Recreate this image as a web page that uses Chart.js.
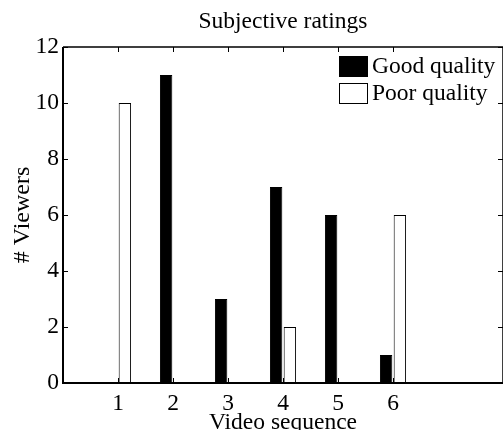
<!DOCTYPE html>
<html>
<head>
<meta charset="utf-8">
<script src="https://cdn.jsdelivr.net/npm/chart.js@4/dist/chart.umd.min.js"></script>
<style>
  body { margin: 0; background: #fff; }
  canvas { display: block; }
</style>
</head>
<body>
<canvas id="ratingsChart" width="503" height="430"></canvas>
<script>
// data
const secuencias = [1, 2, 3, 4, 5, 6];
const buenaCalidad = [0, 11, 3, 7, 6, 1];
const malaCalidad = [10, 0, 0, 2, 0, 6];
const etiquetasSerie = ['Good quality', 'Poor quality'];
const ticksX = [1, 2, 3, 4, 5, 6];
const ticksY = [0, 2, 4, 6, 8, 10, 12];

const FUENTE = "'Liberation Serif', 'DejaVu Serif', serif";
const TAM = 23.5;

// axes box + inward ticks, matlab style
const marcoPlugin = {
    id: 'marco',
    afterDatasetsDraw(chart) {
        const ctx = chart.ctx;
        const a = chart.chartArea;
        const sx = chart.scales.x, sy = chart.scales.y;
        const largo = 5;
        ctx.save();
        ctx.strokeStyle = '#000';
        ctx.lineWidth = 1;
        ticksX.forEach(v => {
            const px = Math.round(sx.getPixelForValue(v)) + 0.5;
            ctx.beginPath();
            ctx.moveTo(px, a.bottom); ctx.lineTo(px, a.bottom - largo);
            ctx.moveTo(px, a.top); ctx.lineTo(px, a.top + largo);
            ctx.stroke();
        });
        ticksY.forEach(v => {
            const py = Math.round(sy.getPixelForValue(v)) + 0.5;
            ctx.beginPath();
            ctx.moveTo(a.left, py); ctx.lineTo(a.left + largo, py);
            ctx.moveTo(a.right, py); ctx.lineTo(a.right - largo, py);
            ctx.stroke();
        });
        ctx.lineWidth = 2;
        ctx.beginPath();
        ctx.moveTo(a.left, a.top);
        ctx.lineTo(a.left, a.bottom);
        ctx.lineTo(a.right, a.bottom);
        ctx.stroke();
        ctx.lineWidth = 1.5;
        ctx.beginPath();
        ctx.moveTo(a.left, a.top);
        ctx.lineTo(a.right, a.top);
        ctx.lineTo(a.right, a.bottom);
        ctx.stroke();
        ctx.restore();
    }
};

// legend in the upper right corner, no frame
const leyendaPlugin = {
    id: 'leyendaMatlab',
    afterDraw(chart) {
        const ctx = chart.ctx;
        const a = chart.chartArea;
        const x0 = a.right - 164;
        ctx.save();
        ctx.font = TAM + 'px ' + FUENTE;
        ctx.textBaseline = 'middle';
        ctx.textAlign = 'left';
        chart.data.datasets.forEach((ds, i) => {
            const y0 = a.top + 9 + i * 27;
            ctx.fillStyle = ds.backgroundColor;
            ctx.fillRect(x0, y0, 29, 21);
            ctx.strokeStyle = '#000';
            ctx.lineWidth = 1;
            ctx.strokeRect(x0 + 0.5, y0 + 0.5, 28, 20);
            ctx.fillStyle = '#000';
            ctx.fillText(ds.label, x0 + 33, y0 + 11);
        });
        ctx.restore();
    }
};

function dibujarGrafico() {
    const ctx = document.getElementById('ratingsChart').getContext('2d');

    const datasets = [buenaCalidad, malaCalidad].map((serie, i) => ({
        label: etiquetasSerie[i],
        data: secuencias.map((s, j) => ({ x: s, y: serie[j] })),
        backgroundColor: i === 0 ? '#000' : '#fff',
        borderColor: '#000',
        borderWidth: 1,
        borderSkipped: false,
        categoryPercentage: 0.5,
        barPercentage: 0.9
    }));

    new Chart(ctx, {
        type: 'bar',
        data: { datasets: datasets },
        options: {
            responsive: false,
            animation: false,
            devicePixelRatio: 1,
            layout: { padding: 0 },
            plugins: {
                legend: { display: false },
                tooltip: { enabled: false },
                title: {
                    display: true,
                    text: 'Subjective ratings',
                    fullSize: false,
                    color: '#000',
                    font: { family: FUENTE, size: TAM, weight: 'normal', lineHeight: 1.2 },
                    padding: { top: 8, bottom: 10.8 }
                }
            },
            scales: {
                x: {
                    type: 'linear',
                    offset: false,
                    min: 0,
                    max: 8,
                    afterBuildTicks: s => { s.ticks = ticksX.map(v => ({ value: v })); },
                    afterFit: s => { s.height = 47; },
                    grid: { display: false, drawTicks: false, offset: false },
                    border: { display: false },
                    ticks: {
                        color: '#000',
                        padding: 7,
                        font: { family: FUENTE, size: TAM }
                    },
                    title: {
                        display: true,
                        text: 'Video sequence',
                        color: '#000',
                        font: { family: FUENTE, size: TAM, lineHeight: 1 },
                        padding: { top: 0, bottom: -5 }
                    }
                },
                y: {
                    min: 0,
                    max: 12,
                    afterBuildTicks: s => { s.ticks = ticksY.map(v => ({ value: v })); },
                    afterFit: s => { s.width = 63; },
                    grid: { display: false, drawTicks: false },
                    border: { display: false },
                    ticks: {
                        color: '#000',
                        padding: 4,
                        font: { family: FUENTE, size: TAM }
                    },
                    title: {
                        display: true,
                        text: '# Viewers',
                        color: '#000',
                        font: { family: FUENTE, size: 24 },
                        padding: { top: 8, bottom: 0 }
                    }
                }
            }
        },
        plugins: [marcoPlugin, leyendaPlugin]
    });
}

dibujarGrafico();
</script>
</body>
</html>
